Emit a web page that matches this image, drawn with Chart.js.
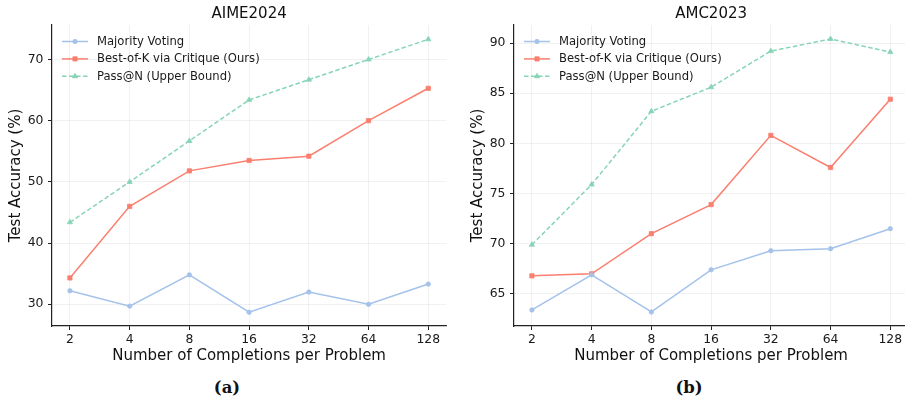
<!DOCTYPE html>
<html>
<head>
<meta charset="utf-8">
<script src="https://cdn.jsdelivr.net/npm/chart.js@4/dist/chart.umd.min.js"></script>
<style>
  html, body { margin: 0; padding: 0; background: #fff; overflow: hidden; }
  body { width: 905px; height: 401px; position: relative; }
  .panel { position: absolute; top: 0; }
  .cap { position: absolute; top: 378px; font-family: "DejaVu Serif", serif; font-weight: bold; font-size: 16.5px; color: #111; transform: translateX(-50%); }
</style>
</head>
<body>
<div class="panel" style="left:0px"><canvas id="aime" width="451" height="370"></canvas></div>
<div class="panel" style="left:455px"><canvas id="amc" width="458" height="370"></canvas></div>
<div class="cap" style="left:227px">(a)</div>
<div class="cap" style="left:689px">(b)</div>
<script>
// x categories
var completions = ['2', '4', '8', '16', '32', '64', '128'];

// AIME2024
var aimeMajority = [32.2, 29.7, 34.8, 28.7, 32.0, 30.0, 33.3];
var aimeCritique = [34.3, 46.0, 51.8, 53.5, 54.2, 60.0, 65.3];
var aimePass = [43.4, 50.0, 56.7, 63.4, 66.7, 70.0, 73.3];
var aimeTicks = [30, 40, 50, 60, 70];

// AMC2023
var amcMajority = [63.4, 66.9, 63.2, 67.4, 69.3, 69.5, 71.5];
var amcCritique = [66.8, 67.0, 71.0, 73.9, 80.8, 77.6, 84.4];
var amcPass = [69.9, 75.9, 83.2, 85.6, 89.2, 90.4, 89.1];
var amcTicks = [65, 70, 75, 80, 85, 90];

var blue = '#a4c2ea', red = '#fa7f6f', green = '#86d4b6';
var FONT = "'DejaVu Sans', sans-serif";

function pts(arr) {
  return arr.map(function (v, i) { return { x: i, y: v }; });
}

// matplotlib-like legend in the upper left of the plot area
var lineLegend = {
  id: 'lineLegend',
  afterDraw: function (chart) {
    var ctx = chart.ctx, a = chart.chartArea;
    ctx.save();
    chart.data.datasets.forEach(function (ds, i) {
      var y = a.top + 16.5 + i * 17.4;
      var x0 = a.left + 10, x1 = a.left + 36;
      ctx.strokeStyle = ds.borderColor;
      ctx.lineWidth = ds.borderWidth;
      ctx.setLineDash(ds.borderDash || []);
      ctx.beginPath();
      ctx.moveTo(x0, y);
      ctx.lineTo(x1, y);
      ctx.stroke();
      ctx.setLineDash([]);
      ctx.fillStyle = ds.borderColor;
      ctx.lineWidth = ds.pointBorderWidth;
      Chart.helpers.drawPoint(ctx, {
        pointStyle: ds.pointStyle, radius: ds.pointRadius,
        rotation: 0, borderWidth: ds.pointBorderWidth
      }, (x0 + x1) / 2, y);
      ctx.fillStyle = '#1a1a1a';
      ctx.font = '11.6px ' + FONT;
      ctx.textBaseline = 'middle';
      ctx.textAlign = 'left';
      ctx.fillText(ds.label, a.left + 45, y + 0.5);
    });
    ctx.restore();
  }
};

function makeChart(id, title, majority, critique, pass, ticks, yMin, yMax, yWidth, yTitlePad) {
  return new Chart(document.getElementById(id), {
    type: 'line',
    data: {
      datasets: [
        {
          label: 'Majority Voting',
          data: pts(majority),
          borderColor: blue, backgroundColor: blue,
          borderWidth: 1.5, pointStyle: 'circle', pointRadius: 2.2,
          pointBorderWidth: 0.8, tension: 0
        },
        {
          label: 'Best-of-K via Critique (Ours)',
          data: pts(critique),
          borderColor: red, backgroundColor: red,
          borderWidth: 1.5, pointStyle: 'rect', pointRadius: 3,
          pointBorderWidth: 0.8, tension: 0
        },
        {
          label: 'Pass@N (Upper Bound)',
          data: pts(pass),
          borderColor: green, backgroundColor: green,
          borderWidth: 1.5, borderDash: [4.5, 2.5], pointStyle: 'triangle', pointRadius: 3,
          pointBorderWidth: 0.8, tension: 0
        }
      ]
    },
    options: {
      responsive: false,
      animation: false,
      layout: { padding: 0 },
      plugins: {
        legend: { display: false },
        tooltip: { enabled: false },
        title: {
          display: true, text: title, fullSize: false,
          color: '#111', font: { family: FONT, size: 15, weight: 'normal' },
          padding: { top: 5, bottom: 2 }
        }
      },
      scales: {
        x: {
          type: 'linear', min: -0.3, max: 6.3,
          afterBuildTicks: function (s) {
            s.ticks = completions.map(function (c, i) { return { value: i }; });
          },
          afterFit: function (s) { s.height = 44; },
          ticks: {
            callback: function (v) { return completions[v]; },
            color: '#1a1a1a', font: { family: FONT, size: 12.4 }, padding: 2,
            maxRotation: 0
          },
          grid: { color: 'rgba(0,0,0,0.07)', lineWidth: 0.8, tickColor: '#222', tickLength: 4, tickWidth: 1 },
          border: { color: '#222', width: 1.2 },
          title: {
            display: true, text: 'Number of Completions per Problem', color: '#111',
            font: { family: FONT, size: 15 }, padding: { top: 0, bottom: 4.5 }
          }
        },
        y: {
          min: yMin, max: yMax,
          afterBuildTicks: function (s) {
            s.ticks = ticks.map(function (v) { return { value: v }; });
          },
          afterFit: function (s) { s.width = yWidth; },
          ticks: { color: '#1a1a1a', font: { family: FONT, size: 12.4 }, padding: 4.5 },
          grid: { color: 'rgba(0,0,0,0.07)', lineWidth: 0.8, tickColor: '#222', tickLength: 4, tickWidth: 1 },
          border: { color: '#222', width: 1.2 },
          title: {
            display: true, text: 'Test Accuracy (%)', color: '#111',
            font: { family: FONT, size: 15 }, padding: { top: yTitlePad, bottom: 0 }
          }
        }
      }
    },
    plugins: [lineLegend]
  });
}

makeChart('aime', 'AIME2024', aimeMajority, aimeCritique, aimePass, aimeTicks, 26.45, 75.64, 52, 7);
makeChart('amc', 'AMC2023', amcMajority, amcCritique, amcPass, amcTicks, 61.8, 91.8, 59, 14.5);
</script>
</body>
</html>
